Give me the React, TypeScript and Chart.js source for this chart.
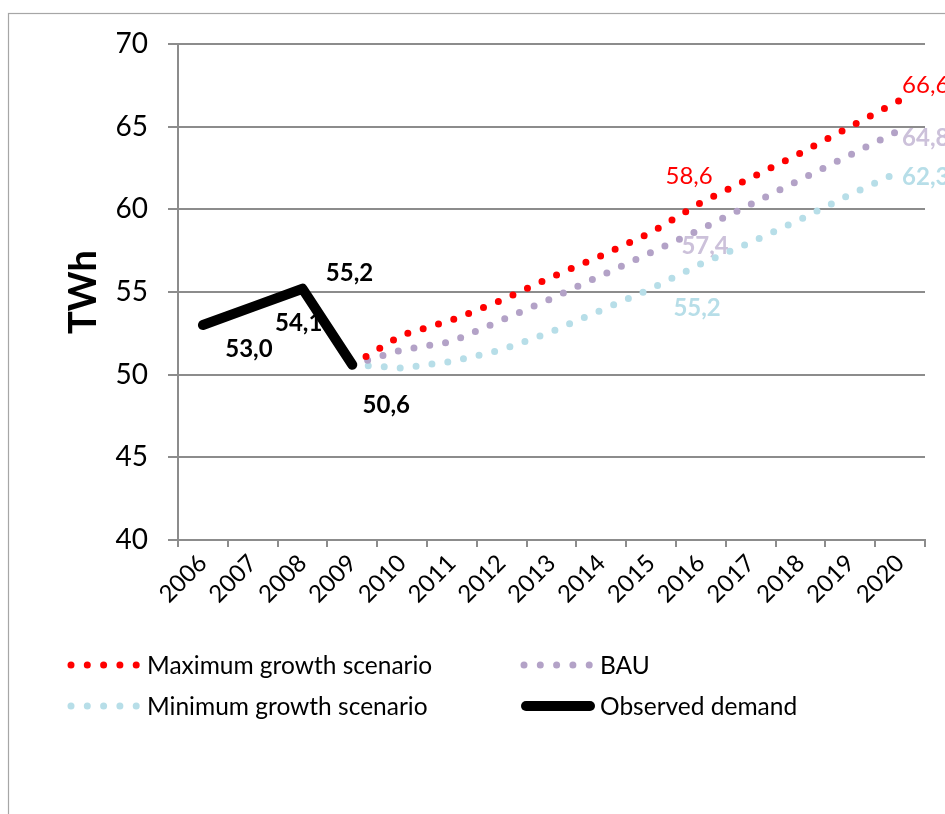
import React, { useEffect, useRef } from 'react';
import { Chart, registerables } from 'chart.js';

Chart.register(...registerables);

// ---- data ----
const years = ['2006', '2007', '2008', '2009', '2010', '2011', '2012', '2013', '2014', '2015', '2016', '2017', '2018', '2019', '2020'];
const observedDemand = [53.0, 54.1, 55.2, 50.6, null, null, null, null, null, null, null, null, null, null, null];
const maxGrowth = [null, null, null, 50.6, 52.4, 53.3, 54.5, 55.9, 57.2, 58.6, 60.4, 61.9, 63.4, 65.0, 66.6];
const bau = [null, null, null, 50.6, 51.5, 52.0, 53.3, 54.6, 56.0, 57.4, 58.8, 60.3, 61.8, 63.3, 64.8];
const minGrowth = [null, null, null, 50.6, 50.4, 50.8, 51.5, 52.6, 53.9, 55.2, 56.7, 58.0, 59.4, 60.9, 62.3];
const yTicks = [40, 45, 50, 55, 60, 65, 70];
const seriesNames = ['Maximum growth scenario', 'BAU', 'Minimum growth scenario', 'Observed demand'];

// ---- styling ----
const FONT = 'Lato, "Open Sans", sans-serif';
const RED = '#FF0000';
const LAVENDER = '#B3A2C7';
const LAVENDER_TEXT = '#CCC1DA';
const LIGHT_BLUE = '#B7DEE8';
const GRID = '#8C8C8C';
const DOT = 7;
const DOT_GAP = 16;

// dataset index order: 0 observed, 1 max, 2 bau, 3 min
// placement of value labels relative to their point (dx, baseline dy)
const labelPlacement = [
  { ds: 0, i: 0, dx: 46, dy: 32, color: '#000', bold: true, align: 'center' },
  { ds: 0, i: 1, dx: 46, dy: 24, color: '#000', bold: true, align: 'center' },
  { ds: 0, i: 2, dx: 47, dy: -8, color: '#000', bold: true, align: 'center' },
  { ds: 0, i: 3, dx: 34, dy: 48, color: '#000', bold: true, align: 'center' },
  { ds: 1, i: 9, dx: 38, dy: -48, color: RED, bold: false, align: 'center' },
  { ds: 2, i: 9, dx: 54, dy: 2, color: LAVENDER_TEXT, bold: true, align: 'center' },
  { ds: 3, i: 9, dx: 46, dy: 27, color: LIGHT_BLUE, bold: true, align: 'center' },
  { ds: 1, i: 14, dx: 2, dy: -7, color: RED, bold: false, align: 'left' },
  { ds: 2, i: 14, dx: 2, dy: 16, color: LAVENDER_TEXT, bold: true, align: 'left' },
  { ds: 3, i: 14, dx: 2, dy: 14, color: LIGHT_BLUE, bold: true, align: 'left' },
];

const fmt = (v: number) => v.toFixed(1).replace('.', ',');

const valueLabelsPlugin = {
  id: 'valueLabels',
  beforeDatasetsDraw(chart: any) {
    const ctx = chart.ctx;
    ctx.save();
    ctx.textBaseline = 'alphabetic';
    labelPlacement.forEach((p) => {
      const meta = chart.getDatasetMeta(p.ds);
      const pt = meta.data[p.i];
      const v = chart.data.datasets[p.ds].data[p.i];
      if (!pt || v == null) return;
      ctx.font = `${p.bold ? 'bold ' : ''}24px ${FONT}`;
      ctx.fillStyle = p.color;
      ctx.textAlign = p.align;
      ctx.fillText(fmt(v), pt.x + p.dx, pt.y + p.dy);
    });
    ctx.restore();
  },
};

// legend entries: dataset index and grid position
const legendLayout = [
  { ds: 1, x: 71, y: 665 },
  { ds: 2, x: 524, y: 665 },
  { ds: 3, x: 71, y: 706 },
  { ds: 0, x: 524, y: 706 },
];

const legendAndFramePlugin = {
  id: 'legendAndFrame',
  afterDraw(chart: any) {
    const ctx = chart.ctx;
    ctx.save();
    // outer frame
    ctx.strokeStyle = '#A6A6A6';
    ctx.lineWidth = 1.2;
    ctx.strokeRect(8.5, 13.5, 1000, 900);

    legendLayout.forEach((item) => {
      const ds = chart.data.datasets[item.ds];
      if (ds.borderDash && ds.borderDash.length) {
        ctx.fillStyle = ds.borderColor;
        for (let k = 0; k < 5; k++) {
          ctx.beginPath();
          ctx.arc(item.x + k * 16.3, item.y, DOT / 2, 0, Math.PI * 2);
          ctx.fill();
        }
      } else {
        ctx.strokeStyle = ds.borderColor;
        ctx.lineWidth = 10;
        ctx.lineCap = 'round';
        ctx.beginPath();
        ctx.moveTo(item.x + 2, item.y);
        ctx.lineTo(item.x + 66, item.y);
        ctx.stroke();
      }
      ctx.fillStyle = '#000';
      ctx.font = `24.5px ${FONT}`;
      ctx.textAlign = 'left';
      ctx.textBaseline = 'middle';
      ctx.fillText(ds.label, item.x + 76, item.y + 1);
    });
    ctx.restore();
  },
};

const dotted = (label: string, data: (number | null)[], color: string, order: number) => ({
  label,
  data,
  borderColor: color,
  borderWidth: DOT,
  borderDash: [0, DOT_GAP],
  borderCapStyle: 'round',
  pointRadius: 0,
  order,
});

export default function App() {
  const canvasRef = useRef<HTMLCanvasElement | null>(null);

  useEffect(() => {
    const canvas = canvasRef.current;
    if (!canvas) return;
    const chart = new Chart(canvas, {
      type: 'line',
      data: {
        labels: years,
        datasets: [
          {
            label: seriesNames[3],
            data: observedDemand,
            borderColor: '#000000',
            borderWidth: 10,
            borderCapStyle: 'round',
            borderJoinStyle: 'round',
            pointRadius: 0,
            order: 0,
          },
          dotted(seriesNames[0], maxGrowth, RED, 1),
          dotted(seriesNames[1], bau, LAVENDER, 2),
          dotted(seriesNames[2], minGrowth, LIGHT_BLUE, 3),
        ],
      } as any,
      options: {
        responsive: false,
        animation: false,
        devicePixelRatio: 1,
        layout: { padding: { left: 0, top: 44, right: 20, bottom: 0 } },
        plugins: { legend: { display: false }, tooltip: { enabled: false } },
        scales: {
          x: {
            type: 'category',
            offset: true,
            grid: {
              display: true,
              drawOnChartArea: false,
              drawTicks: true,
              tickLength: 7,
              offset: true,
              color: GRID,
              lineWidth: 2,
            },
            border: { display: true, color: GRID, width: 2 },
            ticks: {
              color: '#000',
              font: { family: FONT, size: 24 },
              minRotation: 45,
              maxRotation: 45,
              padding: 2,
              autoSkip: false,
            },
            afterFit: (s: any) => {
              s.height = 274;
            },
          },
          y: {
            min: 40,
            max: 70,
            afterBuildTicks: (s: any) => {
              s.ticks = yTicks.map((v) => ({ value: v }));
            },
            ticks: { color: '#000', font: { family: FONT, size: 28 }, padding: 20 },
            grid: { color: GRID, lineWidth: 2, tickLength: 10, drawTicks: true },
            border: { display: true, color: GRID, width: 2 },
            title: {
              display: true,
              text: 'TWh',
              color: '#000',
              font: { family: FONT, size: 38, weight: 'bold' },
              padding: { top: 61, bottom: 0 },
            },
            afterFit: (s: any) => {
              s.width = 178;
            },
          },
        },
      } as any,
      plugins: [valueLabelsPlugin, legendAndFramePlugin],
    });
    return () => chart.destroy();
  }, []);

  return (
    <div style={{ position: 'absolute', left: 0, top: 0, width: 945, height: 814, overflow: 'hidden', background: '#fff' }}>
      <canvas ref={canvasRef} width={945} height={814} style={{ display: 'block', width: 945, height: 814 }} />
    </div>
  );
}
